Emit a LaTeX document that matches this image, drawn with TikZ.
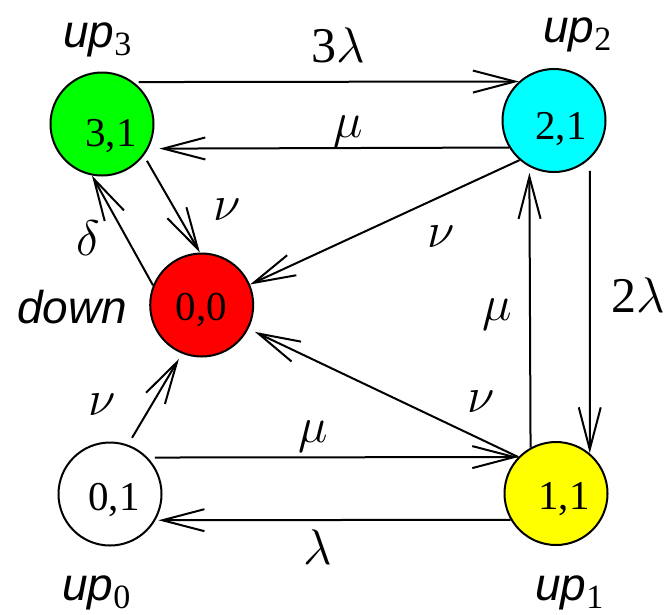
\RequirePackage{fix-cm}
\documentclass[tikz,border=0pt]{standalone}
\usepackage{fontspec}
\setmainfont{Liberation Serif}
\newfontfamily\labfont{Liberation Sans}
\usetikzlibrary{arrows.meta}
\definecolor{stgreen}{RGB}{0,255,0}
\definecolor{stcyan}{RGB}{0,255,255}
\definecolor{stred}{RGB}{255,0,0}
\definecolor{styellow}{RGB}{255,255,0}
\newcommand{\stname}[2]{#1{\rmfamily\upshape\fontsize{34}{34}\selectfont\raisebox{-8pt}{#2}}}
\begin{document}
\begin{tikzpicture}[x=1pt,y=-1pt,
  state/.style={circle,draw,line width=2pt,minimum size=103pt,inner sep=0pt},
  num/.style={font=\fontsize{41}{41}\selectfont,text height=27.5pt,text depth=0pt,inner sep=0pt},
  rate/.style={font=\fontsize{50}{50}\selectfont,inner sep=0pt},
  stlabel/.style={font=\labfont\itshape\fontsize{46}{46}\selectfont,inner sep=0pt,anchor=base west},
  tr/.style={line width=2pt,-{Straight Barb[length=42pt,width=22pt]}}]
\fill[white] (0,0) rectangle (671,614);
\path[use as bounding box] (0,0) rectangle (671,614);

% states
\node[state,fill=stgreen]  (g) at (102,124)   {};
\node[state,fill=stcyan]   (c) at (554,120.5) {};
\node[state,fill=stred]    (r) at (201.7,305) {};
\node[state,fill=white]    (w) at (110,494)   {};
\node[state,fill=styellow] (y) at (556,493.5) {};

\node[num] (gt) at (111,132.5) {3,1};
\node[num] (ct) at (561,126)   {2,1};
\node[num] (rt) at (201.5,306.5) {0,0};
\node[num] (wt) at (114,497)   {0,1};
\node[num] (yt) at (564,496)   {1,1};

% state names
\node[stlabel] (n3) at (63,47)   {\stname{up}{3}};
\node[stlabel] (n2) at (543,42)  {\stname{up}{2}};
\node[stlabel] (nd) at (17,323)  {down};
\node[stlabel] (n0) at (62,600)  {\stname{up}{0}};
\node[stlabel] (n1) at (535,600) {\stname{up}{1}};

% transitions
\draw[tr,shorten <=5pt] (g.53.6) -- (c.132.5);
\draw[tr,shorten >=11pt] (c.211.8) -- (g.332.6);
\draw[tr,shorten <=7pt] (w.44) -- (y.136.7);
\draw[tr,shorten >=3pt] (y.210.5) -- (w.330.1);
\draw[tr,shorten >=6pt] (y.119.9) -- (c.242.6);
\draw[tr,shorten <=12pt] (c.-47.9) -- (y.50.8);
\draw[tr,shorten <=6pt] (g.-37.5) -- (r.92.8);
\draw[tr] (r.158.1) -- (g.-101.7);
\draw[tr] (c.229.7) -- (r.23.6);
\draw[tr,shorten >=7pt] (y.136.9) -- (r.-27.7);
\draw[tr,shorten <=8pt,shorten >=6pt] (w.70.7) -- (r.248.5);

% rates
\node[rate] (l1) at (338,45)  {3$\lambda$};
\node[rate] (l2) at (348,132) {$\mu$};
\node[rate] (l3) at (227,210) {$\nu$};
\node[rate] (l4) at (88,238)  {$\delta$};
\node[rate] (l5) at (441,237) {$\nu$};
\node[rate] (l6) at (638,295) {2$\lambda$};
\node[rate] (l7) at (497,315) {$\mu$};
\node[rate] (l8) at (481,402) {$\nu$};
\node[rate] (l9) at (102,405) {$\nu$};
\node[rate] (l10) at (313,437) {$\mu$};
\node[rate] (l11) at (318,547) {$\lambda$};
\end{tikzpicture}
\end{document}
